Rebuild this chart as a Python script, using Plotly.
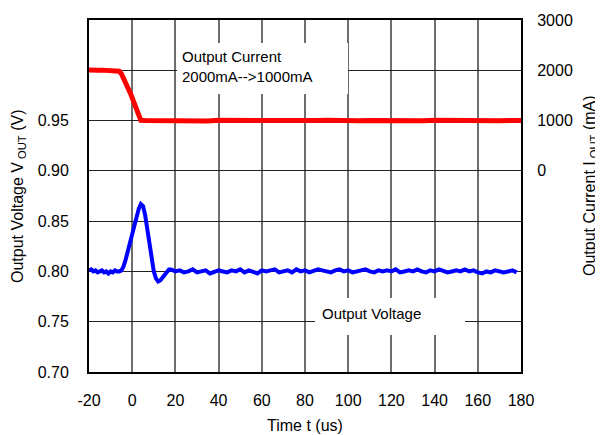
import plotly.graph_objects as go

# Output voltage (V) vs time (us)
v_t = [-20, -19, -18, -17, -16, -15, -14, -13, -12, -11, -10, -9, -8, -7, -6,
       -5, -4, -3, -2, -1, 0, 1, 2, 3, 4, 5, 6, 7, 8, 9, 10, 11, 12, 13, 14,
       15, 16, 17, 18, 19, 20, 22, 24, 26, 28, 30, 32, 34, 36, 38, 40, 42, 44,
       46, 48, 50, 52, 54, 56, 58, 60, 62, 64, 66, 68, 70, 72, 74, 76, 78, 80,
       82, 84, 86, 88, 90, 92, 94, 96, 98, 100, 102, 104, 106, 108, 110, 112,
       114, 116, 118, 120, 122, 124, 126, 128, 130, 132, 134, 136, 138, 140,
       142, 144, 146, 148, 150, 152, 154, 156, 158, 160, 162, 164, 166, 168,
       170, 172, 174, 176, 178, 180]
v_out = [0.801, 0.802, 0.800, 0.801, 0.799, 0.800, 0.801, 0.799, 0.800, 0.798, 0.800, 0.799, 0.801, 0.800, 0.800,
         0.801, 0.805, 0.812, 0.820, 0.828, 0.837, 0.846, 0.855, 0.862, 0.867, 0.865, 0.856, 0.842, 0.827, 0.812,
         0.800, 0.793, 0.790, 0.791, 0.794, 0.797, 0.800, 0.802, 0.802, 0.801, 0.800, 0.801, 0.799, 0.800, 0.802,
         0.799, 0.800, 0.801, 0.798, 0.800, 0.801, 0.800, 0.799, 0.801, 0.800, 0.802, 0.799, 0.801, 0.800, 0.798,
         0.801, 0.800, 0.801, 0.802, 0.799, 0.800, 0.801, 0.799, 0.802, 0.800, 0.801, 0.799, 0.800, 0.802, 0.801,
         0.800, 0.799, 0.801, 0.802, 0.800, 0.801, 0.799, 0.800, 0.801, 0.802, 0.800, 0.799, 0.801, 0.800, 0.801,
         0.800, 0.802, 0.799, 0.800, 0.801, 0.800, 0.802, 0.800, 0.799, 0.801, 0.800, 0.802, 0.801, 0.799, 0.800,
         0.801, 0.800, 0.802, 0.800, 0.801, 0.799, 0.798, 0.800, 0.799, 0.801, 0.800, 0.799, 0.800, 0.801, 0.799]

# Output current (mA) vs time (us)
i_t = [-20, -18, -16, -14, -12, -10, -8, -7, -6, -5, -4, -3, -2, -1, 0, 1, 2,
       3, 4, 6, 8, 10, 15, 20, 25, 30, 35, 40, 45, 50, 55, 60, 65, 70, 75, 80,
       85, 90, 95, 100, 105, 110, 115, 120, 125, 130, 135, 140, 145, 150, 155,
       160, 165, 170, 175, 180]
i_out = [2005, 1995, 2000, 2003, 1996, 2000, 2004, 1998, 1980, 1930, 1850, 1760,
         1660, 1560, 1450, 1330, 1210, 1100, 1005, 1000, 998, 1002, 995, 1003,
         998, 1000, 992, 1004, 997, 1001, 993, 1000, 1003, 996, 1002, 990, 1000,
         1004, 997, 1001, 995, 1003, 998, 992, 1002, 1000, 996, 1004, 999, 1001,
         994, 1002, 1000, 997, 1003, 999]

x_ticks = [-20, 0, 20, 40, 60, 80, 100, 120, 140, 160, 180]
x_labels = ["-20", "0", "20", "40", "60", "80", "100", "120", "140", "160", "180"]
v_ticks = [0.70, 0.75, 0.80, 0.85, 0.90, 0.95, 1.00]
v_labels = ["0.70", "0.75", "0.80", "0.85", "0.90", "0.95", ""]
i_ticks = [0, 1000, 2000, 3000]

FONT = "Liberation Sans, Arial, sans-serif"

fig = go.Figure()
fig.add_trace(go.Scatter(x=v_t, y=v_out, mode="lines",
                         line=dict(color="#0000ff", width=4), name="Output Voltage"))
fig.add_trace(go.Scatter(x=i_t, y=i_out, mode="lines", yaxis="y2",
                         line=dict(color="#ff0000", width=5), name="Output Current"))

# in-plot labels (white boxes break the grid like the original)
fig.add_annotation(x=0.2035, y=0.935, xref="paper", yref="paper",
                   text="Output Current<br>2000mA-->1000mA", showarrow=False,
                   align="left", valign="top", xanchor="left", yanchor="top",
                   width=161, height=41, borderwidth=0,
                   bgcolor="white", borderpad=5,
                   font=dict(family=FONT, size=15, color="black"))
fig.add_annotation(x=0.5225, y=0.21, xref="paper", yref="paper",
                   text="Output Voltage", showarrow=False,
                   align="left", valign="top", xanchor="left", yanchor="top",
                   width=136, height=23, borderwidth=0,
                   bgcolor="white", borderpad=7,
                   font=dict(family=FONT, size=15, color="black"))

# axis titles
fig.add_annotation(x=0, y=0.5, xref="paper", yref="paper", xshift=-71,
                   xanchor="center", yanchor="middle",
                   text="Output Voltage V<sub> OUT</sub> (V)", showarrow=False,
                   textangle=-90, font=dict(family=FONT, size=16, color="black"))
fig.add_annotation(x=1, y=0.5, xref="paper", yref="paper", xshift=69, yshift=10,
                   xanchor="center", yanchor="middle",
                   text="Output Current I<sub> OUT</sub> (mA)", showarrow=False,
                   textangle=-90, font=dict(family=FONT, size=16, color="black"))
fig.add_annotation(x=0.5, y=0, xref="paper", yref="paper", yshift=-53,
                   xanchor="center", yanchor="middle",
                   text="Time t (us)", showarrow=False,
                   font=dict(family=FONT, size=16, color="black"))

fig.update_layout(
    width=603, height=435,
    margin=dict(l=81, r=90, t=12, b=71),
    plot_bgcolor="white", paper_bgcolor="white",
    showlegend=False,
    font=dict(family=FONT, size=16, color="black"),
    xaxis=dict(range=[-20, 180], tickvals=x_ticks, ticktext=x_labels,
               showgrid=True, gridcolor="#6e6e6e", gridwidth=1.5,
               showline=True, linecolor="black", linewidth=2, mirror=True,
               ticks="outside", ticklen=13, tickcolor="rgba(0,0,0,0)",
               zeroline=False, automargin=False),
    yaxis=dict(range=[0.70, 1.05], tickvals=v_ticks, ticktext=v_labels,
               showgrid=True, gridcolor="#222222", gridwidth=1,
               showline=True, linecolor="black", linewidth=2, mirror=True,
               ticks="outside", ticklen=15, tickcolor="rgba(0,0,0,0)",
               zeroline=False, automargin=False),
    yaxis2=dict(range=[-4000, 3000], tickvals=i_ticks, overlaying="y",
                side="right", showgrid=False, zeroline=False,
                ticks="outside", ticklen=12, tickcolor="rgba(0,0,0,0)",
                automargin=False),
)

fig.write_html("out.html")
